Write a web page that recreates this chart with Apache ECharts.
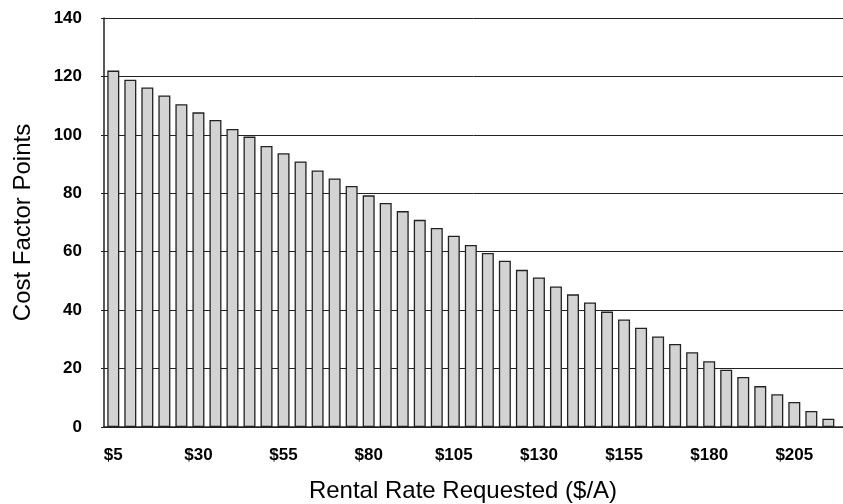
<!DOCTYPE html>
<html>
<head>
<meta charset="utf-8">
<script src="https://cdn.jsdelivr.net/npm/echarts@6/dist/echarts.min.js"></script>
<style>
html,body{margin:0;padding:0;background:#fff;}
#chart{width:843px;height:504px;}
</style>
</head>
<body>
<div id="chart"></div>
<script>
// Rental rate categories ($/A)
const rates = [5,10,15,20,25,30,35,40,45,50,55,60,65,70,75,80,85,90,95,100,
  105,110,115,120,125,130,135,140,145,150,155,160,165,170,175,180,185,190,195,200,
  205,210,215];
// Cost factor points
const points = [122.0,118.9,116.2,113.5,110.5,107.7,105.1,102.0,99.4,96.2,
  93.7,90.9,87.8,85.1,82.5,79.3,76.7,73.9,70.9,68.1,
  65.5,62.3,59.6,56.9,53.8,51.2,48.1,45.4,42.6,39.5,
  36.8,34.0,31.0,28.4,25.6,22.5,19.6,17.1,14.0,11.2,
  8.6,5.5,2.8];
// Tick labels
const xTickValues = [5,30,55,80,105,130,155,180,205];
const yTicks = [0,20,40,60,80,100,120,140];

const chart = echarts.init(document.getElementById('chart'));
const font = 'Liberation Sans, Arial, sans-serif';
chart.setOption({
  animation:false,
  backgroundColor:'#fff',
  grid:{left:104,right:0,top:18,bottom:77,containLabel:false,outerBoundsMode:'none'},
  xAxis:{
    type:'value',
    min:2.27, max:219.3,
    name:'Rental Rate Requested ($/A)',
    nameLocation:'middle',
    nameGap:52,
    nameMoveOverlap:false,
    nameTextStyle:{fontFamily:font,fontSize:24,color:'#000',padding:[0,21,0,0]},
    axisLine:{show:true,onZero:false,lineStyle:{color:'#222',width:1.5}},
    axisTick:{show:false},
    splitLine:{show:false},
    axisLabel:{
      customValues:xTickValues,
      formatter:v=>'$'+v,
      margin:20,
      fontFamily:font,fontSize:17,fontWeight:'bold',color:'#000'
    }
  },
  yAxis:{
    type:'value',
    min:yTicks[0], max:yTicks[yTicks.length-1], interval:20,
    name:'Cost Factor Points',
    nameLocation:'middle',
    nameRotate:90,
    nameGap:69,
    nameMoveOverlap:false,
    nameTextStyle:{fontFamily:font,fontSize:24,color:'#000'},
    axisLine:{show:true,lineStyle:{color:'#222',width:1.5}},
    axisTick:{show:true,length:3,lineStyle:{color:'#222',width:1}},
    splitLine:{show:true,lineStyle:{color:'#222',width:1}},
    axisLabel:{margin:22,fontFamily:font,fontSize:17,fontWeight:'bold',color:'#000'}
  },
  series:[{
    type:'bar',
    data:rates.map((r,i)=>[r,points[i]]),
    barWidth:12,
    itemStyle:{color:'#d3d3d3',borderColor:'#222',borderWidth:1.3}
  }]
});
</script>
</body>
</html>
